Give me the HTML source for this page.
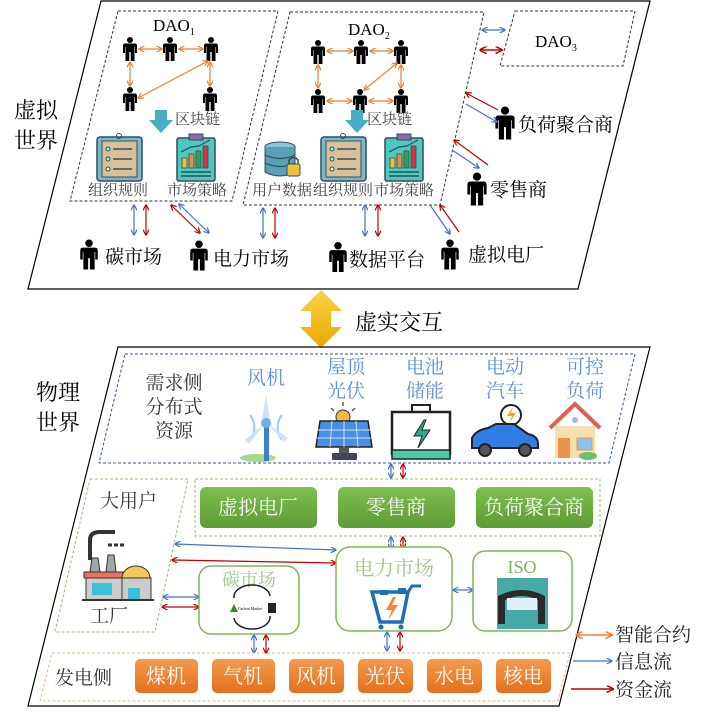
<!DOCTYPE html>
<html><head><meta charset="utf-8"><style>
html,body{margin:0;padding:0;background:#fff;}
svg{display:block;}
text{font-family:"Liberation Serif","Noto Serif CJK SC","Noto Sans CJK SC",serif;}
</style></head><body>
<svg width="704" height="714" viewBox="0 0 704 714" xmlns="http://www.w3.org/2000/svg">
<defs>
<symbol id="p" viewBox="0 0 16 24">
<circle cx="8" cy="3" r="3" fill="#000"/>
<path d="M3 6.5 H13 Q15 6.5 15 9 V16 H13 V10 H12.5 V24 H8.7 V15 H7.3 V24 H3.5 V10 H3 V16 H1 V9 Q1 6.5 3 6.5Z" fill="#000"/>
</symbol>
<marker id="ao" viewBox="0 0 10 10" refX="9" refY="5" markerWidth="5" markerHeight="5" orient="auto-start-reverse"><path d="M0 0 L10 5 L0 10" fill="none" stroke="#ed7d31" stroke-width="2"/></marker>
<marker id="ab" viewBox="0 0 10 10" refX="9" refY="5" markerWidth="5" markerHeight="5" orient="auto-start-reverse"><path d="M0 0 L10 5 L0 10" fill="none" stroke="#4472c4" stroke-width="2"/></marker>
<marker id="ar" viewBox="0 0 10 10" refX="9" refY="5" markerWidth="5" markerHeight="5" orient="auto-start-reverse"><path d="M0 0 L10 5 L0 10" fill="none" stroke="#c00000" stroke-width="2"/></marker>
<linearGradient id="gy" x1="0" y1="0" x2="0" y2="1"><stop offset="0" stop-color="#ffd24a"/><stop offset="1" stop-color="#e6a800"/></linearGradient>
<linearGradient id="gg" x1="0" y1="0" x2="0" y2="1"><stop offset="0" stop-color="#7fbf50"/><stop offset="1" stop-color="#5d9c34"/></linearGradient>
<linearGradient id="go" x1="0" y1="0" x2="0" y2="1"><stop offset="0" stop-color="#f59a4c"/><stop offset="1" stop-color="#e2701f"/></linearGradient>
<g id="clip">
<rect x="0" y="3" width="45" height="44" rx="3" fill="#7fb8c8" stroke="#2f4f5f" stroke-width="1.5"/>
<rect x="5" y="7" width="35" height="36" fill="#d9c09a" stroke="#2f4f5f"/>
<circle cx="22" cy="2" r="2.5" fill="none" stroke="#2f4f5f"/>
<circle cx="11" cy="15" r="2" fill="#9ed" stroke="#2f4f5f"/><line x1="16" y1="15" x2="35" y2="15" stroke="#2f4f5f" stroke-width="1.5"/>
<circle cx="11" cy="25" r="2" fill="#9ed" stroke="#2f4f5f"/><line x1="16" y1="25" x2="35" y2="25" stroke="#2f4f5f" stroke-width="1.5"/>
<circle cx="11" cy="35" r="2" fill="#fe8" stroke="#2f4f5f"/><line x1="16" y1="35" x2="35" y2="35" stroke="#2f4f5f" stroke-width="1.5"/>
</g>
<g id="strat">
<rect x="0" y="4" width="38" height="43" rx="2" fill="#4ec9c0" stroke="#2f4f5f" stroke-width="1.5"/>
<rect x="12" y="0" width="14" height="6" fill="#8a6aa8" stroke="#2f4f5f"/>
<path d="M4 18 L14 13 L22 12 L33 6" fill="none" stroke="#2f4f5f" stroke-width="1.2"/>
<rect x="5" y="24" width="5" height="10" fill="#f2c03a" stroke="#2f4f5f" stroke-width=".8"/>
<rect x="12" y="20" width="5" height="14" fill="#f08a3a" stroke="#2f4f5f" stroke-width=".8"/>
<rect x="19" y="17" width="5" height="17" fill="#2aa84a" stroke="#2f4f5f" stroke-width=".8"/>
<rect x="26" y="12" width="5" height="22" fill="#d8324a" stroke="#2f4f5f" stroke-width=".8"/>
<line x1="4" y1="38" x2="34" y2="38" stroke="#2f4f5f" stroke-width="1.5"/><line x1="4" y1="42" x2="34" y2="42" stroke="#2f4f5f" stroke-width="1.5"/>
</g>
</defs>

<polygon points="101,1 650,1 578,289 28,289" fill="none" stroke="#000" stroke-width="1.2"/>
<polygon points="118,11 278,11 232,201 70,201" fill="none" stroke="#333" stroke-dasharray="3,2"/>
<polygon points="290,12 484,12 440,205 243,205" fill="none" stroke="#333" stroke-dasharray="3,2"/>
<polygon points="515,11 635,11 623,66 500,66" fill="none" stroke="#333" stroke-dasharray="3,2"/>

<text x="153" y="31" font-size="17">DAO<tspan font-size="10" dy="4">1</tspan></text>
<text x="348" y="35" font-size="17">DAO<tspan font-size="10" dy="4">2</tspan></text>
<text x="535" y="47" font-size="17">DAO<tspan font-size="10" dy="4">3</tspan></text>

<use href="#p" x="122" y="37" width="16" height="24"/>
<use href="#p" x="162" y="37" width="16" height="24"/>
<use href="#p" x="203" y="37" width="16" height="24"/>
<use href="#p" x="122" y="87" width="16" height="24"/>
<use href="#p" x="202" y="87" width="16" height="24"/>
<g stroke="#ed7d31" stroke-width="1.2" marker-start="url(#ao)" marker-end="url(#ao)">
<line x1="139" y1="49" x2="162" y2="49"/><line x1="179" y1="49" x2="203" y2="49"/>
<line x1="130" y1="62" x2="130" y2="86"/><line x1="210" y1="62" x2="210" y2="86"/>
<line x1="208" y1="61" x2="138" y2="98"/>
</g>
<use href="#p" x="310" y="40" width="16" height="24"/>
<use href="#p" x="353" y="40" width="16" height="24"/>
<use href="#p" x="393" y="40" width="16" height="24"/>
<use href="#p" x="310" y="89" width="16" height="24"/>
<use href="#p" x="352" y="89" width="16" height="24"/>
<use href="#p" x="393" y="89" width="16" height="24"/>
<g stroke="#ed7d31" stroke-width="1.2" marker-start="url(#ao)" marker-end="url(#ao)">
<line x1="327" y1="51" x2="353" y2="51"/><line x1="370" y1="51" x2="393" y2="51"/>
<line x1="318" y1="65" x2="318" y2="88"/><line x1="401" y1="65" x2="401" y2="88"/>
<line x1="327" y1="101" x2="352" y2="101"/><line x1="369" y1="101" x2="393" y2="101"/>
<line x1="397" y1="63" x2="364" y2="90"/>
</g>
<polygon points="155,110 167,110 167,120 173,120 161,133 149,120 155,120" fill="#4bacc6"/>
<polygon points="351,110 363,110 363,120 369,120 357,133 345,120 351,120" fill="#4bacc6"/>
<text x="175" y="124" font-size="15" fill="#444">区块链</text>
<text x="367" y="124" font-size="15" fill="#444">区块链</text>

<use href="#clip" x="97" y="134"/>
<use href="#strat" x="177" y="134"/>
<use href="#clip" x="321" y="134"/>
<use href="#strat" x="385" y="134"/>
<g transform="translate(265,142)">
<ellipse cx="15" cy="5" rx="15" ry="5" fill="#8cc4d8" stroke="#2f4f5f"/>
<path d="M0 5 V30 Q15 38 30 30 V5" fill="#5a9fb8" stroke="#2f4f5f"/>
<path d="M0 13 Q15 20 30 13 M0 21 Q15 28 30 21" fill="none" stroke="#2f4f5f"/>
<rect x="22" y="22" width="13" height="12" rx="2" fill="#f2c03a" stroke="#2f4f5f"/>
<path d="M24 22 V18 Q28.5 13 33 18 V22" fill="none" stroke="#2f4f5f" stroke-width="1.5"/>
</g>
<g font-size="15" fill="#444">
<text x="88" y="195">组织规则</text><text x="167" y="195">市场策略</text>
<text x="252" y="195">用户数据</text><text x="313" y="195">组织规则</text><text x="374" y="195">市场策略</text>
</g>

<text x="14" y="118" font-size="22">虚拟</text>
<text x="14" y="148" font-size="22">世界</text>

<line x1="482" y1="30" x2="505" y2="30" stroke="#4472c4" stroke-width="1.2" marker-start="url(#ab)" marker-end="url(#ab)"/>
<line x1="480" y1="50" x2="502" y2="50" stroke="#c00000" stroke-width="1.5" marker-start="url(#ar)" marker-end="url(#ar)"/>
<use href="#p" x="494" y="105" width="22" height="36"/>
<text x="518" y="131" font-size="19">负荷聚合商</text>
<line x1="498" y1="110" x2="466" y2="93" stroke="#c00000" stroke-width="1.2" marker-end="url(#ar)"/>
<line x1="466" y1="104" x2="497" y2="122" stroke="#4472c4" stroke-width="1.2" marker-end="url(#ab)"/>
<use href="#p" x="466" y="170" width="22" height="38"/>
<text x="490" y="196" font-size="19">零售商</text>
<line x1="488" y1="165" x2="454" y2="140" stroke="#c00000" stroke-width="1.2" marker-end="url(#ar)"/>
<line x1="452" y1="150" x2="479" y2="168" stroke="#4472c4" stroke-width="1.2" marker-end="url(#ab)"/>

<use href="#p" x="79" y="236" width="20" height="37"/>
<text x="105" y="263" font-size="19">碳市场</text>
<use href="#p" x="189" y="237" width="20" height="37"/>
<text x="213" y="265" font-size="19">电力市场</text>
<use href="#p" x="328" y="238" width="20" height="38"/>
<text x="349" y="266" font-size="19">数据平台</text>
<use href="#p" x="440" y="236" width="20" height="37"/>
<text x="468" y="261" font-size="19">虚拟电厂</text>
<g stroke-width="1.2">
<line x1="134" y1="205" x2="134" y2="235" stroke="#4472c4" marker-start="url(#ab)" marker-end="url(#ab)"/>
<line x1="146" y1="205" x2="146" y2="235" stroke="#c00000" marker-start="url(#ar)" marker-end="url(#ar)"/>
<line x1="171" y1="205" x2="200" y2="233" stroke="#c00000" marker-start="url(#ar)" marker-end="url(#ar)"/>
<line x1="179" y1="204" x2="209" y2="233" stroke="#4472c4" marker-start="url(#ab)" marker-end="url(#ab)"/>
<line x1="263" y1="208" x2="263" y2="238" stroke="#4472c4" marker-start="url(#ab)" marker-end="url(#ab)"/>
<line x1="275" y1="208" x2="275" y2="238" stroke="#c00000" marker-start="url(#ar)" marker-end="url(#ar)"/>
<line x1="365" y1="205" x2="365" y2="236" stroke="#4472c4" marker-start="url(#ab)" marker-end="url(#ab)"/>
<line x1="378" y1="205" x2="378" y2="236" stroke="#c00000" marker-start="url(#ar)" marker-end="url(#ar)"/>
<line x1="430" y1="205" x2="450" y2="234" stroke="#4472c4" marker-end="url(#ab)"/>
<line x1="459" y1="232" x2="440" y2="205" stroke="#c00000" marker-end="url(#ar)"/>
</g>

<polygon points="321,290 342,311 331,311 331,327 342,327 321,348 300,327 311,327 311,311 300,311" fill="url(#gy)"/>
<text x="355" y="330" font-size="22" font-family="Liberation Sans,Noto Sans CJK SC,sans-serif">虚实交互</text>

<polygon points="118,347 650,347 559,706 28,706" fill="none" stroke="#000" stroke-width="1.2"/>
<polygon points="125,354 635,354 609,463 99,463" fill="none" stroke="#2f5597" stroke-dasharray="3,2"/>
<text x="36" y="400" font-size="22">物理</text>
<text x="36" y="430" font-size="22">世界</text>
<g font-size="19" fill="#333" text-anchor="middle">
<text x="174" y="389">需求侧</text><text x="174" y="413">分布式</text><text x="174" y="437">资源</text>
</g>
<g font-size="19" fill="#5b8fd5" text-anchor="middle">
<text x="266" y="384">风机</text>
<text x="346" y="373">屋顶</text><text x="346" y="397">光伏</text>
<text x="425" y="373">电池</text><text x="425" y="397">储能</text>
<text x="505" y="373">电动</text><text x="505" y="397">汽车</text>
<text x="585" y="373">可控</text><text x="585" y="397">负荷</text>
</g>
<g>
<path d="M250 415 A20 20 0 0 1 250 440 M282 415 A20 20 0 0 0 282 440" fill="none" stroke="#9cc8ef" stroke-width="2"/>
<ellipse cx="258" cy="458" rx="18" ry="4" fill="#a8d68a"/>
<rect x="264" y="425" width="5" height="36" fill="#3a7fd0"/>
<path d="M266 395 L270 420 L262 420Z" fill="#cfe3f6"/>
<path d="M264 424 L245 440 L249 444Z" fill="#cfe3f6"/>
<path d="M268 424 L288 438 L284 442Z" fill="#cfe3f6"/>
<circle cx="266" cy="423" r="5" fill="#6fb0ea"/>
</g>
<g>
<path d="M343 402 V406 M331 408 L334 411 M355 408 L352 411" stroke="#333" stroke-width="1.2"/>
<circle cx="343" cy="417" r="7" fill="#f5b942" stroke="#333"/>
<polygon points="320,421 368,421 372,447 316,447" fill="#4a90e2" stroke="#222" stroke-width="1.5"/>
<path d="M332 421 L330 447 M344 421 V447 M356 421 L358 447 M318 430 H370 M317 438 H371" stroke="#cde" stroke-width="1"/>
<rect x="339" y="447" width="10" height="6" fill="#555"/><rect x="332" y="453" width="25" height="7" fill="#445" rx="1"/>
</g>
<g>
<path d="M412 412 V405 H430 V412" fill="none" stroke="#222" stroke-width="2"/>
<rect x="392" y="412" width="58" height="42" fill="#fff" stroke="#222" stroke-width="2.5"/>
<rect x="392" y="450" width="58" height="9" fill="#4ec9a8" stroke="#222" stroke-width="1.5"/>
<path d="M424 420 L414 436 L422 436 L418 448 L430 430 L422 430 L426 420Z" fill="#2aa88a" stroke="#222"/>
</g>
<g>
<circle cx="511" cy="415" r="10" fill="#fff" stroke="#222" stroke-width="2"/>
<path d="M513 407 L507 416 L512 416 L509 423 L516 413 L511 413Z" fill="#f5a623"/>
<path d="M472 448 V438 Q476 430 488 428 L496 424 H514 L528 434 Q538 436 538 444 V448Z" fill="#2f7de0" stroke="#222" stroke-width="2"/>
<circle cx="485" cy="450" r="6" fill="#555" stroke="#222" stroke-width="2"/><circle cx="525" cy="450" r="6" fill="#555" stroke="#222" stroke-width="2"/>
</g>
<g>
<path d="M550 428 L575 404 L600 428" fill="none" stroke="#e06050" stroke-width="4"/>
<rect x="555" y="426" width="40" height="32" fill="#f7dfb0"/>
<rect x="558" y="438" width="12" height="20" fill="#e8954a"/>
<rect x="577" y="438" width="15" height="12" fill="#8cc4ea" stroke="#e8954a"/>
<circle cx="575" cy="420" r="3" fill="#8cc4ea"/>
<ellipse cx="588" cy="456" rx="9" ry="4" fill="#6bbf6b"/>
</g>

<g stroke-width="1.2">
<line x1="391" y1="464" x2="391" y2="478" stroke="#4472c4" marker-start="url(#ab)" marker-end="url(#ab)"/>
<line x1="403" y1="464" x2="403" y2="478" stroke="#c00000" marker-start="url(#ar)" marker-end="url(#ar)"/>
</g>

<rect x="195" y="479" width="405" height="57" fill="none" stroke="#8cc46a" stroke-dasharray="3,2"/>
<g font-size="20" fill="#fff" text-anchor="middle" font-family="Liberation Sans,Noto Sans CJK SC,sans-serif">
<rect x="200" y="487" width="117" height="41" rx="6" fill="url(#gg)"/><text x="258" y="514">虚拟电厂</text>
<rect x="338" y="487" width="117" height="41" rx="6" fill="url(#gg)"/><text x="396" y="514">零售商</text>
<rect x="476" y="487" width="117" height="41" rx="6" fill="url(#gg)"/><text x="534" y="514">负荷聚合商</text>
</g>

<polygon points="90,479 188,479 155,632 55,632" fill="none" stroke="#8cc46a" stroke-dasharray="3,2"/>
<text x="100" y="507" font-size="19" fill="#333">大用户</text>
<g>
<path d="M90 560 V540 Q90 532 100 532 H115" fill="none" stroke="#333" stroke-width="4"/>
<path d="M108 545 H125" stroke="#333" stroke-width="3" stroke-dasharray="4,2"/>
<polygon points="92,558 98,558 100,572 90,572" fill="#9aa" stroke="#333"/>
<polygon points="108,555 114,555 116,572 106,572" fill="#9aa" stroke="#333"/>
<rect x="84" y="572" width="40" height="6" fill="#f07060" stroke="#333"/>
<rect x="86" y="578" width="36" height="22" fill="#ccc" stroke="#333"/>
<rect x="92" y="583" width="20" height="12" fill="#3ac0d8"/>
<path d="M122 578 A14 12 0 0 1 150 578Z" fill="#f5c85a" stroke="#333"/>
<rect x="122" y="578" width="29" height="22" fill="#ccc" stroke="#333"/>
<rect x="128" y="588" width="12" height="12" fill="#3ac0d8"/>
<line x1="82" y1="600" x2="154" y2="600" stroke="#333" stroke-width="2"/>
</g>
<text x="90" y="622" font-size="19" fill="#333">工厂</text>

<g stroke-width="1.2">
<line x1="391" y1="537" x2="391" y2="549" stroke="#4472c4" marker-start="url(#ab)" marker-end="url(#ab)"/>
<line x1="403" y1="537" x2="403" y2="549" stroke="#c00000" marker-start="url(#ar)" marker-end="url(#ar)"/>
<line x1="175" y1="544" x2="336" y2="550" stroke="#4472c4" marker-start="url(#ab)" marker-end="url(#ab)"/>
<line x1="172" y1="560" x2="336" y2="563" stroke="#c00000" marker-start="url(#ar)" marker-end="url(#ar)"/>
<line x1="163" y1="597" x2="199" y2="597" stroke="#4472c4" marker-start="url(#ab)" marker-end="url(#ab)"/>
<line x1="162" y1="607" x2="199" y2="607" stroke="#c00000" marker-start="url(#ar)" marker-end="url(#ar)"/>
<line x1="453" y1="590" x2="473" y2="590" stroke="#4472c4" marker-start="url(#ab)" marker-end="url(#ab)"/>
<line x1="254" y1="635" x2="254" y2="653" stroke="#4472c4" marker-start="url(#ab)" marker-end="url(#ab)"/>
<line x1="266" y1="635" x2="266" y2="653" stroke="#c00000" marker-start="url(#ar)" marker-end="url(#ar)"/>
<line x1="387" y1="632" x2="387" y2="651" stroke="#4472c4" marker-start="url(#ab)" marker-end="url(#ab)"/>
<line x1="400" y1="632" x2="400" y2="651" stroke="#c00000" marker-start="url(#ar)" marker-end="url(#ar)"/>
</g>

<rect x="199" y="566" width="100" height="68" rx="12" fill="#fff" stroke="#7fb55a" stroke-width="1.5"/>
<text x="249" y="586" font-size="18" fill="#9cc886" text-anchor="middle">碳市场</text>
<path d="M234 598 A18 12 0 0 1 270 596 M270 616 A18 12 0 0 1 234 618" fill="none" stroke="#222" stroke-width="1.5"/>
<text x="250" y="610" font-size="4" text-anchor="middle" font-family="Liberation Sans,sans-serif">Carbon Market</text>
<polygon points="230,612 234,604 238,612" fill="#3a8a2a"/><rect x="268" y="603" width="8" height="10" fill="#222"/>
<rect x="336" y="547" width="116" height="84" rx="14" fill="#fff" stroke="#7fb55a" stroke-width="1.5"/>
<text x="394" y="575" font-size="20" fill="#9cc886" text-anchor="middle">电力市场</text>
<path d="M372 592 H408 L402 622 H380Z" fill="none" stroke="#1f6fb5" stroke-width="3.5"/>
<path d="M408 592 L412 586 H421" fill="none" stroke="#1f6fb5" stroke-width="3"/>
<path d="M393 597 L386 610 L392 610 L388 620 L398 605 L392 605 L396 597Z" fill="#f5862a"/>
<rect x="380" y="590" width="8" height="5" fill="#1f6fb5"/><rect x="398" y="588" width="8" height="6" fill="#1f6fb5"/>
<circle cx="381" cy="627" r="2.5" fill="#1f6fb5"/><circle cx="401" cy="627" r="2.5" fill="#1f6fb5"/>
<rect x="473" y="551" width="99" height="80" rx="12" fill="#fff" stroke="#7fb55a" stroke-width="1.5"/>
<text x="522" y="573" font-size="18" fill="#7fb55a" text-anchor="middle">ISO</text>
<rect x="497" y="578" width="51" height="51" fill="#48aaa8"/>
<path d="M498 596 Q522 584 545 596 V624 H538 V600 Q522 592 505 600 V624 H498Z" fill="#2a2a2a"/>
<rect x="507" y="598" width="30" height="12" fill="#dfeff5"/>

<polygon points="52,653 570,653 558,701 40,701" fill="none" stroke="#f4b183" stroke-dasharray="3,2"/>
<text x="55" y="684" font-size="19" fill="#333">发电侧</text>
<g font-size="20" fill="#fff" text-anchor="middle" font-family="Liberation Sans,Noto Sans CJK SC,sans-serif">
<rect x="135" y="659" width="63" height="34" rx="5" fill="url(#go)"/><text x="166" y="683">煤机</text>
<rect x="212" y="659" width="63" height="34" rx="5" fill="url(#go)"/><text x="243" y="683">气机</text>
<rect x="289" y="659" width="55" height="34" rx="5" fill="url(#go)"/><text x="316" y="683">风机</text>
<rect x="358" y="659" width="55" height="34" rx="5" fill="url(#go)"/><text x="385" y="683">光伏</text>
<rect x="427" y="659" width="55" height="34" rx="5" fill="url(#go)"/><text x="454" y="683">水电</text>
<rect x="496" y="659" width="55" height="34" rx="5" fill="url(#go)"/><text x="523" y="683">核电</text>
</g>

<line x1="576" y1="635" x2="612" y2="635" stroke="#ed7d31" stroke-width="1.5" marker-start="url(#ao)" marker-end="url(#ao)"/>
<line x1="573" y1="661" x2="612" y2="661" stroke="#4472c4" stroke-width="1.2" marker-end="url(#ab)"/>
<line x1="571" y1="689" x2="613" y2="689" stroke="#c00000" stroke-width="1.5" marker-end="url(#ar)"/>
<g font-size="19" fill="#222">
<text x="615" y="641">智能合约</text><text x="615" y="668">信息流</text><text x="615" y="696">资金流</text>
</g>
</svg>
</body></html>
